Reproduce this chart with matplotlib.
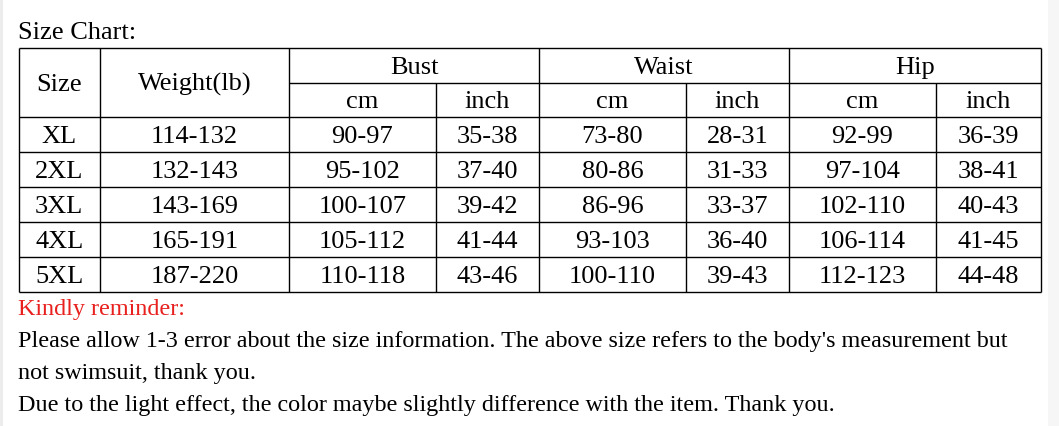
import matplotlib.pyplot as plt

# table data
sizes = ['XL', '2XL', '3XL', '4XL', '5XL']
weight_lb = ['114-132', '132-143', '143-169', '165-191', '187-220']
bust_cm = ['90-97', '95-102', '100-107', '105-112', '110-118']
bust_inch = ['35-38', '37-40', '39-42', '41-44', '43-46']
waist_cm = ['73-80', '80-86', '86-96', '93-103', '100-110']
waist_inch = ['28-31', '31-33', '33-37', '36-40', '39-43']
hip_cm = ['92-99', '97-104', '102-110', '106-114', '112-123']
hip_inch = ['36-39', '38-41', '40-43', '41-45', '44-48']
groups = ['Bust', 'Waist', 'Hip']
units = ['cm', 'inch']

title = 'Size Chart:'
reminder = 'Kindly reminder:'
notes = ["Please allow 1-3 error about the size information. The above size refers to the body's measurement but",
         'not swimsuit, thank you.',
         'Due to the light effect, the color maybe slightly difference with the item. Thank you.']

# layout (pixel grid)
col_x = [18.5, 100, 289, 436, 539, 686, 789, 936, 1040.5]
head_y = [48, 83, 117]
row_h = 35
W, H = 1059, 426
fs = 19
fs_note = 17.4
font = 'Liberation Serif'

fig = plt.figure(figsize=(W / 100, H / 100), dpi=100)
ax = fig.add_axes([0, 0, 1, 1])
ax.set_xlim(0, W)
ax.set_ylim(H, 0)
ax.axis('off')

# faint grey edges of the screenshot
ax.axvspan(0, 2.5, color='#ececec', lw=0)
ax.axvspan(1048, W, color='#f6f6f6', lw=0)

lw = 1.0
nrows = len(sizes)
bottom = head_y[2] + nrows * row_h

# outer and horizontal lines
ax.hlines(head_y[0], col_x[0], col_x[-1], color='black', lw=lw)
ax.hlines(head_y[1], col_x[2], col_x[-1], color='black', lw=lw)
for i in range(nrows + 1):
    ax.hlines(head_y[2] + i * row_h, col_x[0], col_x[-1], color='black', lw=lw)

# vertical lines
for j, x in enumerate(col_x):
    if j in (3, 5, 7):
        ax.vlines(x, head_y[1], bottom, color='black', lw=lw)
    else:
        ax.vlines(x, head_y[0], bottom, color='black', lw=lw)

def cell(x0, x1, y0, y1, s):
    ax.text((x0 + x1) / 2, (y0 + y1) / 2 + 2.2, s, ha='center', va='center',
            fontsize=fs, family=font, color='black')

cell(col_x[0], col_x[1], head_y[0], head_y[2], 'Size')
cell(col_x[1], col_x[2], head_y[0], head_y[2], 'Weight(lb)')
for g, name in enumerate(groups):
    xa = col_x[2 + 2 * g]
    xb = col_x[4 + 2 * g]
    cell(xa, xb, head_y[0], head_y[1], name)
    for u, unit in enumerate(units):
        cell(col_x[2 + 2 * g + u], col_x[3 + 2 * g + u], head_y[1], head_y[2], unit)

columns = [sizes, weight_lb, bust_cm, bust_inch, waist_cm, waist_inch, hip_cm, hip_inch]
for c, values in enumerate(columns):
    for r, v in enumerate(values):
        y0 = head_y[2] + r * row_h
        cell(col_x[c], col_x[c + 1], y0, y0 + row_h, v)

ax.text(18, 33, title, ha='left', va='center', fontsize=fs, family=font, color='black')
ax.text(18, 310, reminder, ha='left', va='center', fontsize=fs_note, family=font, color='#e8201e')
for k, line in enumerate(notes):
    ax.text(18, 342 + k * 31.5, line, ha='left', va='center', fontsize=fs_note, family=font, color='black')

fig.savefig('out.png', dpi=100)
